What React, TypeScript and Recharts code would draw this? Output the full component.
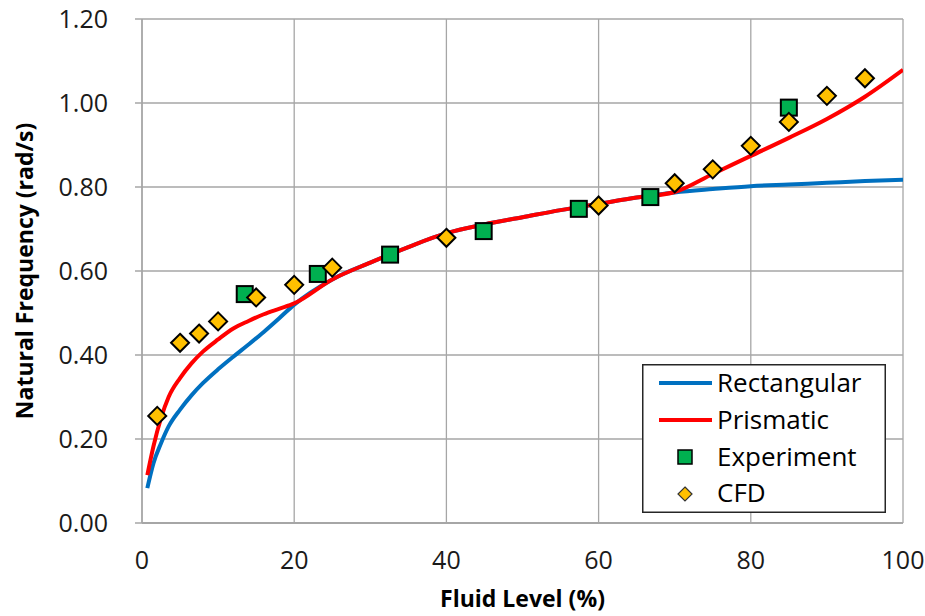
import { ComposedChart, Line, Scatter, XAxis, YAxis, CartesianGrid } from 'recharts';

// fluid level (%) sampled along the two model curves
const levels = [0.7, 1.5, 2.5, 3.5, 5, 6.5, 8, 10, 12, 14, 16, 18, 20, 25, 30, 35, 40, 45, 50, 55, 60, 65, 70, 75, 80, 85, 90, 95, 100];
const rectangular = [0.083, 0.142, 0.19, 0.23, 0.27, 0.304, 0.333, 0.366, 0.396, 0.425, 0.455, 0.487, 0.52, 0.58, 0.62, 0.657, 0.69, 0.711, 0.728, 0.745, 0.76, 0.775, 0.787, 0.795, 0.802, 0.806, 0.81, 0.814, 0.817];
const prismatic = [0.114, 0.182, 0.25, 0.3, 0.345, 0.38, 0.408, 0.437, 0.463, 0.481, 0.497, 0.51, 0.523, 0.58, 0.62, 0.657, 0.69, 0.711, 0.728, 0.745, 0.76, 0.775, 0.788, 0.831, 0.874, 0.917, 0.962, 1.015, 1.079];

const expLevels = [13.5, 23.1, 32.6, 44.9, 57.4, 66.8, 85.0];
const expFreq = [0.545, 0.593, 0.639, 0.695, 0.748, 0.776, 0.989];

const cfdLevels = [2, 5, 7.5, 10, 15, 20, 25, 40, 60, 70, 75, 80, 85, 90, 95];
const cfdFreq = [0.255, 0.429, 0.451, 0.48, 0.537, 0.567, 0.608, 0.679, 0.756, 0.809, 0.842, 0.898, 0.955, 1.017, 1.059];

const xTicks = [0, 20, 40, 60, 80, 100];
const yTicks = [0, 0.2, 0.4, 0.6, 0.8, 1.0, 1.2];

const zip = (xs: number[], ys: number[]) => xs.map((x, i) => ({ x, y: ys[i] }));
const rectData = zip(levels, rectangular);
const prisData = zip(levels, prismatic);
const expData = zip(expLevels, expFreq);
const cfdData = zip(cfdLevels, cfdFreq);

const FONT = '"Open Sans", sans-serif';
const BLUE = '#0070c0';
const RED = '#ff0000';
const GREEN = '#00b050';
const GOLD = '#ffc000';
const GRID = '#a6a6a6';

const SquareMark = (props: any) => {
  const { cx, cy } = props;
  return <rect x={cx - 8} y={cy - 8} width={16} height={16} fill={GREEN} stroke="#000" strokeWidth={2} />;
};

const DiamondMark = (props: any) => {
  const { cx, cy } = props;
  const r = 9;
  return (
    <path
      d={`M${cx},${cy - r}L${cx + r},${cy}L${cx},${cy + r}L${cx - r},${cy}Z`}
      fill={GOLD}
      stroke="#000"
      strokeWidth={2}
    />
  );
};

// legend drawn as an overlay so it doesn't eat into the plot area
const LegendBox = () => {
  const tx = 75;
  const textStyle = { fontFamily: FONT, fontSize: 26, fill: '#000' };
  return (
    <svg width={244} height={149} style={{ display: 'block' }}>
      <rect x={0.75} y={0.75} width={242.5} height={147.5} fill="#fff" stroke="#262626" strokeWidth={1.5} />
      <line x1={17} x2={70} y1={19} y2={19} stroke={BLUE} strokeWidth={4} />
      <text x={tx} y={28} style={textStyle}>Rectangular</text>
      <line x1={17} x2={70} y1={56} y2={56} stroke={RED} strokeWidth={4} />
      <text x={tx} y={65} style={textStyle}>Prismatic</text>
      <rect x={36} y={86} width={14} height={14} fill={GREEN} stroke="#000" strokeWidth={1.5} />
      <text x={tx} y={101.5} style={textStyle}>Experiment</text>
      <path d="M43,123L50,130L43,137L36,130Z" fill={GOLD} stroke="#333" strokeWidth={1.2} />
      <text x={tx} y={138} style={textStyle}>CFD</text>
    </svg>
  );
};

export default function App() {
  return (
    <div style={{ position: 'absolute', left: 0, top: 0, width: 925, height: 616, background: '#fff' }}>
      <ComposedChart width={925} height={616} margin={{ top: 19, right: 22, bottom: 0, left: 0 }}>
        <CartesianGrid stroke={GRID} strokeWidth={1.3} horizontalValues={yTicks} verticalValues={xTicks} />
        <XAxis
          type="number"
          dataKey="x"
          domain={[0, 100]}
          ticks={xTicks}
          allowDataOverflow
          height={93}
          tickSize={0}
          tickMargin={28}
          axisLine={{ stroke: GRID, strokeWidth: 2 }}
          tick={{ fontFamily: FONT, fontSize: 25, fill: '#1a1a1a' }}
          label={{
            value: 'Fluid Level (%)',
            position: 'insideBottom',
            offset: 9,
            style: { fontFamily: FONT, fontSize: 23, fontWeight: 700, fill: '#000' },
          }}
        />
        <YAxis
          type="number"
          domain={[0, 1.2]}
          ticks={yTicks}
          allowDataOverflow
          width={142}
          tickSize={7}
          tickMargin={27}
          tickFormatter={(v: number) => v.toFixed(2)}
          axisLine={{ stroke: GRID, strokeWidth: 1.5 }}
          tickLine={{ stroke: GRID, strokeWidth: 1.5 }}
          tick={{ fontFamily: FONT, fontSize: 25, fill: '#1a1a1a' }}
          label={{
            value: 'Natural Frequency (rad/s)',
            angle: -90,
            position: 'insideLeft',
            offset: 25,
            style: { fontFamily: FONT, fontSize: 23, fontWeight: 700, fill: '#000', textAnchor: 'middle' },
          }}
        />
        <Line
          data={rectData}
          dataKey="y"
          name="Rectangular"
          type="monotone"
          stroke={BLUE}
          strokeWidth={4}
          dot={false}
          isAnimationActive={false}
        />
        <Line
          data={prisData}
          dataKey="y"
          name="Prismatic"
          type="monotone"
          stroke={RED}
          strokeWidth={4}
          dot={false}
          isAnimationActive={false}
        />
        <Scatter data={expData} dataKey="y" name="Experiment" shape={SquareMark} isAnimationActive={false} />
        <Scatter data={cfdData} dataKey="y" name="CFD" shape={DiamondMark} isAnimationActive={false} />
      </ComposedChart>
      <div style={{ position: 'absolute', left: 642, top: 364 }}>
        <LegendBox />
      </div>
    </div>
  );
}
